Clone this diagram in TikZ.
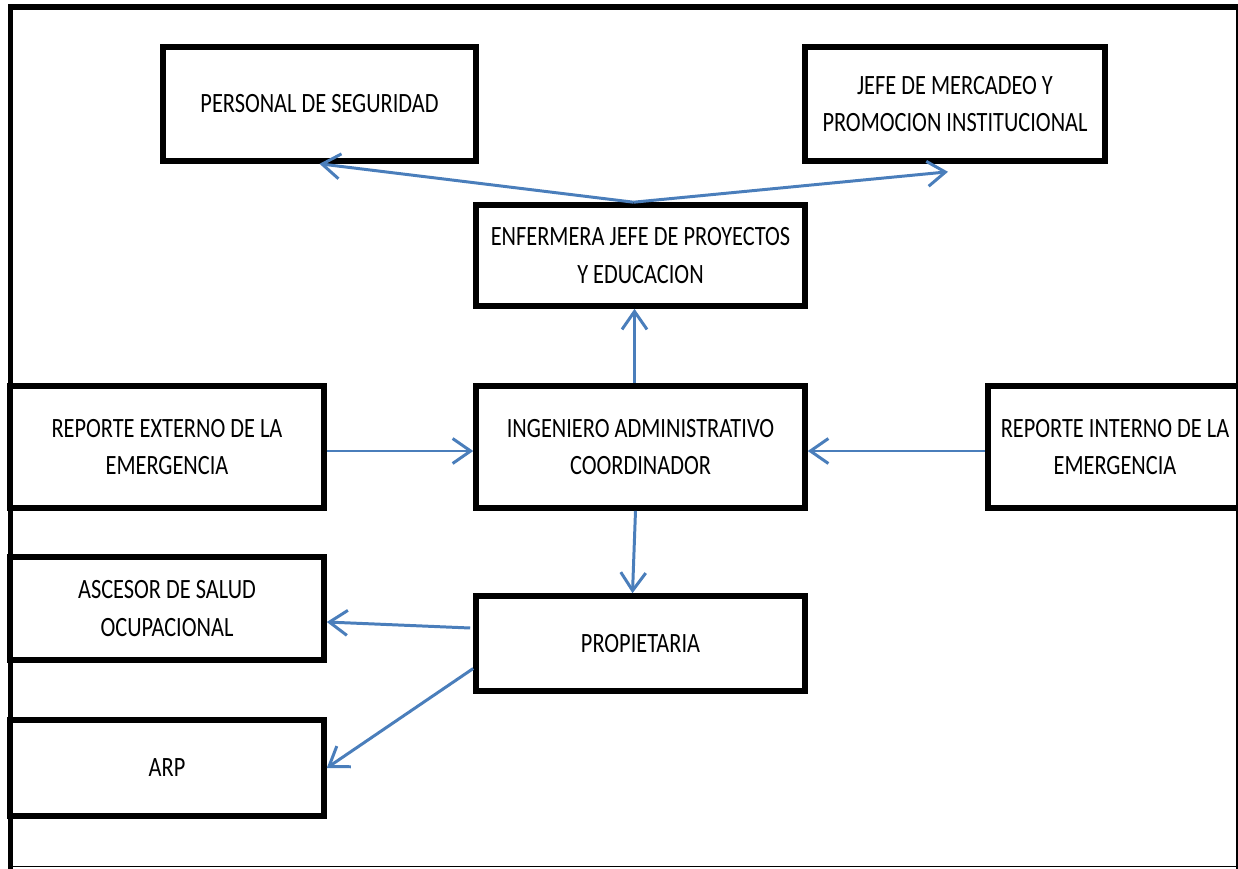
\documentclass[tikz,border=0pt]{standalone}
\usepackage{fontspec}
\setmainfont[FakeStretch=0.8]{Carlito}
\usetikzlibrary{arrows.meta}

\definecolor{flechaazul}{HTML}{4A7EBB}

\tikzset{
	caja/.style={draw=black, line width=3.2pt, align=center, inner sep=2pt,
		font=\fontsize{15.9}{21.5}\selectfont},
	flecha/.style={draw=flechaazul, line width=1.7pt,
		-{Straight Barb[length=0.36cm, width=0.5cm]}}
}

\begin{document}
\begin{tikzpicture}[x=0.02cm, y=-0.02cm]
		
		\useasboundingbox (0,0) rectangle (1238,869);
		\clip (0,0) rectangle (1238,869);
		
		%--- Marco exterior ---
		\draw[line width=3.4pt] (8,7) -- (1238,7);
		\draw[line width=2.9pt] (10.5,4) -- (10.5,869);
		\draw[line width=0.9pt] (1237,4) -- (1237,869);
		\draw[line width=1.1pt] (8,866.5) -- (1238,866.5);
		
		%--- Cajas de arriba ---
		\node[caja, minimum width=6.26cm, minimum height=2.28cm] (seg) at (319.5,104) {PERSONAL DE SEGURIDAD};
		\node[caja, minimum width=6.00cm, minimum height=2.28cm] (jefe) at (955,104) {JEFE DE MERCADEO Y\\PROMOCION INSTITUCIONAL};
		\node[caja, minimum width=6.58cm, minimum height=2.02cm] (enf) at (640.5,255.5) {ENFERMERA JEFE DE PROYECTOS\\Y EDUCACION};
		
		%--- Fila del centro ---
		\node[caja, minimum width=6.58cm, minimum height=2.44cm] (ing) at (640.5,447) {INGENIERO ADMINISTRATIVO\\COORDINADOR};
		\node[caja, minimum width=6.28cm, minimum height=2.44cm] (ext) at (167,447) {REPORTE EXTERNO DE LA\\EMERGENCIA};
		\node[caja, minimum width=5.08cm, minimum height=2.44cm] (int) at (1115,447) {REPORTE INTERNO DE LA\\EMERGENCIA};
		
		%--- Cajas de abajo ---
		\node[caja, minimum width=6.28cm, minimum height=2.06cm] (asc) at (167,608.5) {ASCESOR DE SALUD\\OCUPACIONAL};
		\node[caja, minimum width=6.58cm, minimum height=1.90cm] (prop) at (640.5,643.5) {PROPIETARIA};
		\node[caja, minimum width=6.28cm, minimum height=1.92cm] (arp) at (167,768) {ARP};
		
		% Flechas desde la enfermera
		\draw[flecha] ([xshift=-0.14cm]enf.north) -- (seg.south);
		\draw[flecha] ([xshift=-0.14cm]enf.north) -- ([shift={(-0.14cm,-0.16cm)}]jefe.south);
		
		% Flechas hacia el ingeniero
		\draw[flecha] ([xshift=-0.12cm]ing.north) -- ([xshift=-0.12cm]enf.south);
		\draw[flecha] ([yshift=-0.08cm]ext.east) -- ([yshift=-0.08cm]ing.west);
		\draw[flecha] ([yshift=-0.08cm]int.west) -- ([yshift=-0.08cm]ing.east);
		\draw[flecha] ([xshift=-0.1cm]ing.south) -- ([xshift=-0.16cm]prop.north);
		
		% Flechas desde la propietaria
		\draw[flecha] ([shift={(-0.06cm,0.31cm)}]prop.west) -- ([yshift=-0.27cm]asc.east);
		\draw[flecha] ([yshift=-0.5cm]prop.west) -- (arp.east);
		
	\end{tikzpicture}
\end{document}
